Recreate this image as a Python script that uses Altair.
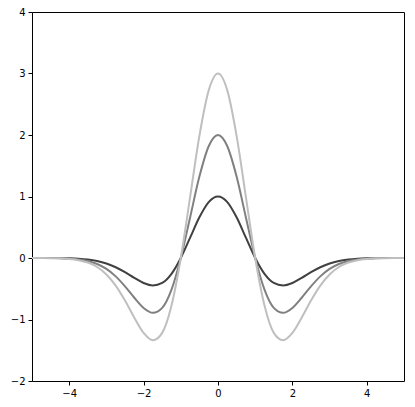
import altair as alt
import pandas as pd

x_vals = [-5.0, -4.75, -4.5, -4.25, -4.0, -3.75, -3.5, -3.25, -3.0, -2.75, -2.5, -2.25, -2.0,
          -1.75, -1.5, -1.25, -1.0, -0.75, -0.5, -0.25, 0.0, 0.25, 0.5, 0.75, 1.0, 1.25, 1.5,
          1.75, 2.0, 2.25, 2.5, 2.75, 3.0, 3.25, 3.5, 3.75, 4.0, 4.25, 4.5, 4.75, 5.0]

# curve values (peak 1, 2, 3)
y_dark = [-0.0001, -0.0003, -0.0008, -0.002, -0.005, -0.0116, -0.0246, -0.0486, -0.089, -0.150,
          -0.231, -0.323, -0.406, -0.446, -0.406, -0.258, 0.0, 0.330, 0.662, 0.909, 1.0,
          0.909, 0.662, 0.330, 0.0, -0.258, -0.406, -0.446, -0.406, -0.323, -0.231, -0.150,
          -0.089, -0.0486, -0.0246, -0.0116, -0.005, -0.002, -0.0008, -0.0003, -0.0001]
y_mid = [-0.0002, -0.0006, -0.0016, -0.004, -0.010, -0.023, -0.049, -0.097, -0.178, -0.299,
         -0.461, -0.646, -0.812, -0.892, -0.812, -0.515, 0.0, 0.660, 1.324, 1.817, 2.0,
         1.817, 1.324, 0.660, 0.0, -0.515, -0.812, -0.892, -0.812, -0.646, -0.461, -0.299,
         -0.178, -0.097, -0.049, -0.023, -0.010, -0.004, -0.0016, -0.0006, -0.0002]
y_light = [-0.0003, -0.0009, -0.0024, -0.006, -0.015, -0.035, -0.074, -0.146, -0.267, -0.449,
           -0.692, -0.970, -1.218, -1.338, -1.218, -0.773, 0.0, 0.991, 1.986, 2.726, 3.0,
           2.726, 1.986, 0.991, 0.0, -0.773, -1.218, -1.338, -1.218, -0.970, -0.692, -0.449,
           -0.267, -0.146, -0.074, -0.035, -0.015, -0.006, -0.0024, -0.0009, -0.0003]

series_names = ["a", "b", "c"]
series_colors = ["#404040", "#808080", "#bfbfbf"]

rows = []
for name, ys in zip(series_names, [y_dark, y_mid, y_light]):
    for xv, yv in zip(x_vals, ys):
        rows.append({"x": xv, "y": yv, "s": name})
df = pd.DataFrame(rows)

chart = alt.Chart(df).mark_line(strokeWidth=2, interpolate="monotone", clip=True).encode(
    x=alt.X("x:Q", scale=alt.Scale(domain=[-5, 5], nice=False, zero=False),
            axis=alt.Axis(values=[-4, -2, 0, 2, 4], title=None, grid=False)),
    y=alt.Y("y:Q", scale=alt.Scale(domain=[-2, 4], nice=False, zero=False),
            axis=alt.Axis(values=[-2, -1, 0, 1, 2, 3, 4], title=None, grid=False)),
    color=alt.Color("s:N", scale=alt.Scale(domain=series_names, range=series_colors), legend=None),
    order=alt.Order("s:N"),
).properties(
    width=372, height=369,
    autosize=alt.AutoSizeParams(type="none"),
    padding={"left": 24, "top": 4, "right": 3, "bottom": 18},
    background="white",
).configure_view(
    stroke="black", strokeWidth=1
).configure_axis(
    domain=False, tickColor="black", tickSize=4, tickWidth=1,
    labelFont="DejaVu Sans", labelFontSize=10, labelColor="black", labelPadding=3,
)

chart.save("out.html", embed_options={"renderer": "svg", "actions": False})
